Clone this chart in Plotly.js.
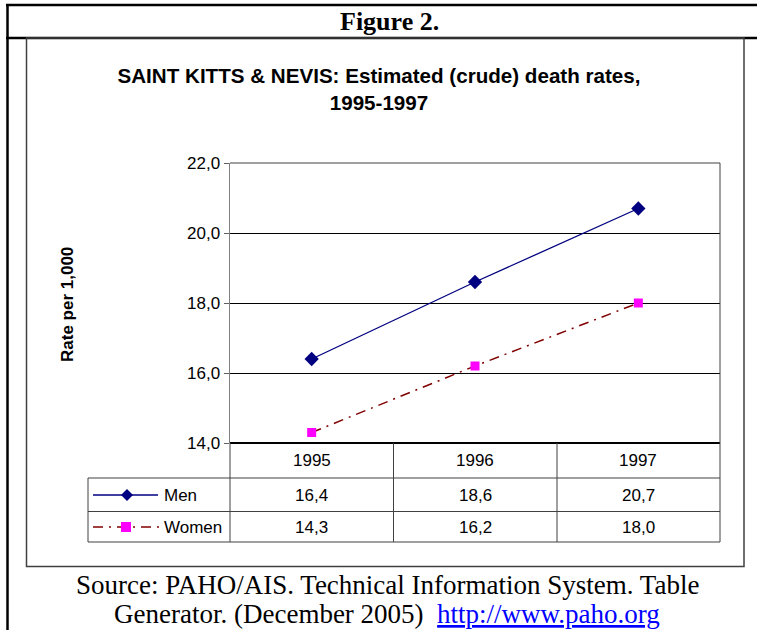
<!DOCTYPE html>
<html>
<head>
<meta charset="utf-8">
<script src="https://cdn.plot.ly/plotly-3.0.1.min.js"></script>
<style>html,body{margin:0;padding:0;background:#fff;}#chart{width:757px;height:630px;}</style>
</head>
<body>
<div id="chart"></div>
<script>
const years = ['1995', '1996', '1997'];
const seriesNames = ['Men', 'Women'];
const men = [16.4, 18.6, 20.7];
const women = [14.3, 16.2, 18.0];
const yTicks = [14, 16, 18, 20, 22];

// pixel -> paper helpers (plot area: x 230..720, y 163..443)
const L = 230, R = 720, T = 163, B = 443, W = 757, H = 630;
const px = X => (X - L) / (R - L);
const py = Y => (B - Y) / (B - T);
const fmt = v => v.toFixed(1).replace('.', ',');

const sans = 'Liberation Sans, Arial, sans-serif';
const serif = 'Liberation Serif, Times New Roman, serif';

const traces = [
  {x: years, y: men, name: seriesNames[0], type: 'scatter', mode: 'lines+markers',
   line: {color: '#000080', width: 1.3},
   marker: {symbol: 'diamond', size: 11, color: '#000080'}},
  {x: years, y: women, name: seriesNames[1], type: 'scatter', mode: 'lines+markers',
   line: {color: '#800000', width: 1.5, dash: '10px,6px,2px,6px'},
   marker: {symbol: 'square', size: 9, color: '#ff00ff'}}
];

const shapes = [];
const hline = (x0, x1, y, color, width) => shapes.push({type: 'line', xref: 'paper', yref: 'paper',
  x0: px(x0), x1: px(x1), y0: py(y), y1: py(y), line: {color: color, width: width}});
const vline = (x, y0, y1, color, width) => shapes.push({type: 'line', xref: 'paper', yref: 'paper',
  x0: px(x), x1: px(x), y0: py(y0), y1: py(y1), line: {color: color, width: width}});

// outer frame
hline(6, 760, 5, '#000', 2.5);
hline(6, 760, 38, '#000', 2.5);
vline(7.5, 4, 632, '#000', 2.5);
// chart box
shapes.push({type: 'rect', xref: 'paper', yref: 'paper', x0: px(26.5), x1: px(744), y0: py(38), y1: py(566.5),
  line: {color: '#404040', width: 1.5}});
// plot area top border and bottom axis
hline(L, R, T, '#808080', 1.5);
hline(L, R, B, '#000', 2);
// data table
const tc = '#404040';
hline(88, R, 478, tc, 1);
hline(88, R, 511.5, tc, 1);
hline(88, R, 542, tc, 1);
vline(88, 478, 542, tc, 1);
vline(L, B, 542, tc, 1);
vline(393.5, B, 542, tc, 1);
vline(557, B, 542, tc, 1);
vline(R, T, 542, tc, 1);
// legend keys in table
const rowY = [495, 527];
hline(93, 158, rowY[0], '#000080', 1.3);
shapes.push({type: 'path', xref: 'paper', yref: 'paper', xsizemode: 'pixel', ysizemode: 'pixel',
  xanchor: px(127), yanchor: py(rowY[0]), path: 'M0,6L6,0L0,-6L-6,0Z',
  fillcolor: '#000080', line: {color: '#000080', width: 0}});
shapes.push({type: 'line', xref: 'paper', yref: 'paper', x0: px(93), x1: px(160), y0: py(rowY[1]), y1: py(rowY[1]),
  line: {color: '#800000', width: 1.5, dash: '10px,6px,2px,6px'}});
shapes.push({type: 'path', xref: 'paper', yref: 'paper', xsizemode: 'pixel', ysizemode: 'pixel',
  xanchor: px(126), yanchor: py(rowY[1]), path: 'M-5,-5L5,-5L5,5L-5,5Z',
  fillcolor: '#ff00ff', line: {color: '#ff00ff', width: 0}});

const annotations = [];
const tableFont = {family: sans, size: 17, color: '#000'};
years.forEach((y, j) => annotations.push({x: j, xref: 'x', y: py(460), yref: 'paper', text: y,
  showarrow: false, xanchor: 'center', yanchor: 'middle', font: tableFont}));
[men, women].forEach((vals, i) => {
  annotations.push({x: px(162), xref: 'paper', y: py(rowY[i]), yref: 'paper', text: seriesNames[i],
    showarrow: false, xanchor: 'left', yanchor: 'middle', font: tableFont});
  vals.forEach((v, j) => annotations.push({x: j, xref: 'x', y: py(rowY[i]), yref: 'paper',
    text: fmt(v), showarrow: false, xanchor: 'center', yanchor: 'middle', font: tableFont}));
});
annotations.push({x: px(67), xref: 'paper', y: py(305), yref: 'paper', text: '<b>Rate per 1,000</b>',
  textangle: -90, showarrow: false, xanchor: 'center', yanchor: 'middle',
  font: {family: sans, size: 17, color: '#000'}});
annotations.push({x: px(389), xref: 'paper', y: py(21), yref: 'paper', text: '<b>Figure 2.</b>',
  showarrow: false, xanchor: 'center', yanchor: 'middle', font: {family: serif, size: 26, color: '#000'}});
annotations.push({x: px(387), xref: 'paper', y: py(585), yref: 'paper',
  text: 'Source: PAHO/AIS. Technical Information System. Table',
  showarrow: false, xanchor: 'center', yanchor: 'middle', font: {family: serif, size: 27, color: '#000'}});
annotations.push({x: px(387), xref: 'paper', y: py(614), yref: 'paper',
  text: 'Generator. (December 2005)  <span style="color:#0000ff;text-decoration:underline">http://www.paho.org</span>',
  showarrow: false, xanchor: 'center', yanchor: 'middle', font: {family: serif, size: 27, color: '#000'}});

const layout = {
  width: W, height: H,
  margin: {l: L, r: W - R, t: T, b: H - B, autoexpand: false},
  paper_bgcolor: '#fff', plot_bgcolor: '#fff',
  separators: ',.',
  showlegend: false,
  title: {text: '<b>SAINT KITTS & NEVIS: Estimated (crude) death rates,<br>1995-1997</b>',
    font: {family: sans, size: 20.6, color: '#000'}, x: 379 / W, xanchor: 'center', y: 1 - 83 / H, yanchor: 'middle'},
  xaxis: {type: 'category', range: [-0.5, 2.5], showgrid: false, showticklabels: false, ticks: '',
    showline: false, zeroline: false, fixedrange: true},
  yaxis: {range: [14, 22], tickvals: yTicks, tickformat: '.1f', ticks: 'outside', ticklen: 5,
    tickcolor: '#606060', tickfont: {family: sans, size: 17, color: '#000'},
    showgrid: true, gridcolor: '#000', gridwidth: 1, showline: true, linecolor: '#808080', linewidth: 1.5,
    zeroline: false, fixedrange: true},
  shapes: shapes,
  annotations: annotations
};

Plotly.newPlot('chart', traces, layout, {displayModeBar: false, staticPlot: true});
</script>
</body>
</html>
